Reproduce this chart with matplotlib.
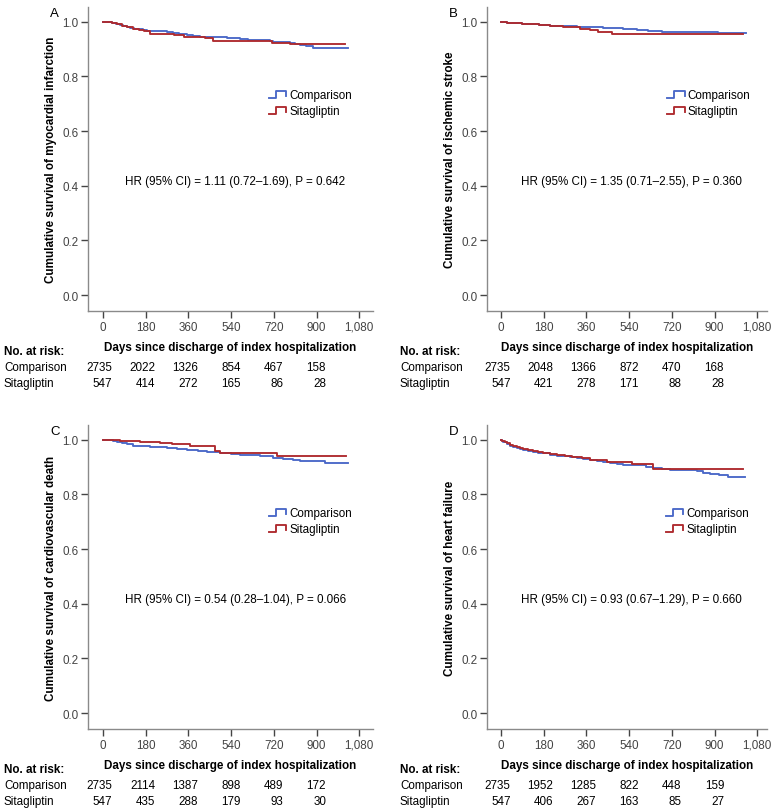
import numpy as np
import matplotlib
matplotlib.use('Agg')
import matplotlib.pyplot as plt
from matplotlib.lines import Line2D
from matplotlib.legend_handler import HandlerLine2D
import matplotlib.transforms as mtrans

plt.rcParams['font.family'] = ['Liberation Sans', 'DejaVu Sans']

# ---- data ----
risk_days = [0, 180, 360, 540, 720, 900]
xtick_vals = [0, 180, 360, 540, 720, 900, 1080]
xtick_labels = ['0', '180', '360', '540', '720', '900', '1,080']
ytick_vals = [0.0, 0.2, 0.4, 0.6, 0.8, 1.0]

panel_letters = ['A', 'B', 'C', 'D']
ylabels = ['Cumulative survival of myocardial infarction',
           'Cumulative survival of ischemic stroke',
           'Cumulative survival of cardiovascular death',
           'Cumulative survival of heart failure']
hr_texts = ['HR (95% CI) = 1.11 (0.72\u20131.69), P = 0.642',
            'HR (95% CI) = 1.35 (0.71\u20132.55), P = 0.360',
            'HR (95% CI) = 0.54 (0.28\u20131.04), P = 0.066',
            'HR (95% CI) = 0.93 (0.67\u20131.29), P = 0.660']

# panel A - myocardial infarction
mi_comp_t = [0, 40, 55, 70, 85, 100, 115, 130, 150, 170, 185, 210, 240, 270, 296, 320, 353, 380, 409, 450,
             522, 560, 578, 610, 634, 670, 703, 717, 750, 788, 810, 830, 855, 880, 887, 1033]
mi_comp_s = [1.0, 0.996, 0.992, 0.988, 0.985, 0.981, 0.978, 0.975, 0.972, 0.969, 0.967, 0.966, 0.965, 0.962,
             0.958, 0.955, 0.950, 0.948, 0.946, 0.944, 0.942, 0.940, 0.937, 0.935, 0.934, 0.932, 0.931, 0.927,
             0.925, 0.922, 0.919, 0.915, 0.913, 0.910, 0.904, 0.904]
mi_sita_t = [0, 40, 60, 80, 100, 125, 150, 175, 200, 250, 300, 340, 380, 430, 464, 712, 788, 1020]
mi_sita_s = [1.0, 0.995, 0.990, 0.985, 0.980, 0.975, 0.970, 0.965, 0.957, 0.954, 0.950, 0.946, 0.943, 0.940,
             0.931, 0.922, 0.919, 0.919]
mi_risk_comp = [2735, 2022, 1326, 854, 467, 158]
mi_risk_sita = [547, 414, 272, 165, 86, 28]

# panel B - ischemic stroke
is_comp_t = [0, 25, 50, 90, 122, 160, 207, 260, 320, 380, 430, 480, 515, 574, 620, 658, 680, 915, 1033]
is_comp_s = [1.0, 0.997, 0.995, 0.993, 0.990, 0.988, 0.985, 0.984, 0.982, 0.980, 0.978, 0.976, 0.973, 0.970,
             0.968, 0.967, 0.964, 0.959, 0.959]
is_sita_t = [0, 25, 50, 90, 122, 160, 207, 260, 304, 333, 375, 410, 469, 1021]
is_sita_s = [1.0, 0.997, 0.995, 0.993, 0.990, 0.988, 0.985, 0.982, 0.980, 0.973, 0.970, 0.961, 0.957, 0.957]
is_risk_comp = [2735, 2048, 1366, 872, 470, 168]
is_risk_sita = [547, 421, 278, 171, 88, 28]

# panel C - cardiovascular death
cv_comp_t = [0, 42, 60, 80, 101, 127, 160, 198, 230, 269, 310, 353, 400, 437, 470, 493, 540, 578, 620, 662,
             700, 717, 760, 801, 830, 936, 1033]
cv_comp_s = [1.0, 0.997, 0.993, 0.988, 0.984, 0.979, 0.977, 0.975, 0.972, 0.970, 0.967, 0.964, 0.960, 0.957,
             0.954, 0.951, 0.948, 0.946, 0.944, 0.942, 0.940, 0.935, 0.931, 0.927, 0.923, 0.916, 0.916]
cv_sita_t = [0, 72, 156, 240, 290, 312, 367, 472, 493, 734, 1024]
cv_sita_s = [1.0, 0.997, 0.992, 0.989, 0.986, 0.983, 0.977, 0.959, 0.953, 0.942, 0.942]
cv_risk_comp = [2735, 2114, 1387, 898, 489, 172]
cv_risk_sita = [547, 435, 288, 179, 93, 30]

# panel D - heart failure
hf_comp_t = [0, 5, 10, 17, 25, 38, 50, 67, 80, 93, 115, 135, 155, 177, 205, 236, 260, 291, 320, 346, 375,
             405, 430, 459, 490, 514, 573, 610, 641, 680, 712, 797, 826, 850, 881, 920, 957, 1029]
hf_comp_s = [1.0, 0.996, 0.993, 0.990, 0.985, 0.978, 0.974, 0.970, 0.967, 0.964, 0.960, 0.957, 0.953, 0.950,
             0.946, 0.942, 0.940, 0.937, 0.934, 0.930, 0.927, 0.924, 0.920, 0.916, 0.912, 0.908, 0.906, 0.901,
             0.896, 0.893, 0.890, 0.888, 0.884, 0.880, 0.874, 0.870, 0.864, 0.864]
hf_sita_t = [0, 5, 10, 17, 25, 38, 50, 67, 80, 93, 115, 135, 155, 177, 205, 236, 270, 300, 340, 375, 447,
             552, 641, 1020]
hf_sita_s = [1.0, 0.997, 0.994, 0.991, 0.987, 0.980, 0.976, 0.972, 0.969, 0.966, 0.962, 0.959, 0.956, 0.952,
             0.948, 0.944, 0.940, 0.936, 0.932, 0.927, 0.919, 0.910, 0.893, 0.892]
hf_risk_comp = [2735, 1952, 1285, 822, 448, 159]
hf_risk_sita = [547, 406, 267, 163, 85, 27]

curves = [(mi_comp_t, mi_comp_s, mi_sita_t, mi_sita_s),
          (is_comp_t, is_comp_s, is_sita_t, is_sita_s),
          (cv_comp_t, cv_comp_s, cv_sita_t, cv_sita_s),
          (hf_comp_t, hf_comp_s, hf_sita_t, hf_sita_s)]
risks = [(mi_risk_comp, mi_risk_sita), (is_risk_comp, is_risk_sita),
         (cv_risk_comp, cv_risk_sita), (hf_risk_comp, hf_risk_sita)]

BLUE = '#4a68c8'
RED = '#ae2a2e'
FS = 8.4
W, H = 774, 812


class StepHandler(HandlerLine2D):
    # SPSS-like little step icon in the legend
    def create_artists(self, legend, orig_handle, xdescent, ydescent, width, height, fontsize, trans):
        xs = np.array([0.0, 0.42, 0.42, 1.0, 1.0]) * width - xdescent
        ys = np.array([0.05, 0.05, 0.9, 0.9, 0.35]) * height - ydescent
        ln = Line2D(xs, ys, color=orig_handle.get_color(), lw=orig_handle.get_linewidth())
        ln.set_transform(trans)
        return [ln]


fig = plt.figure(figsize=(W / 100, H / 100), dpi=100)

# axes boxes in pixels: left, top, right, bottom ; xlim ; legend anchor x ; text-column x
boxes = [(88, 8, 373, 312), (487, 8, 767, 312), (88, 426, 373, 730), (487, 426, 767, 730)]
xlims = [(-63, 1138), (-59, 1121), (-63, 1138), (-59, 1121)]
leg_x = [0.635, 0.643, 0.635, 0.639]
text_x = [4, 400, 4, 400]

for i in range(4):
    l, t, r, b = boxes[i]
    ax = fig.add_axes([l / W, 1 - b / H, (r - l) / W, (b - t) / H])
    ct, cs, st, ss = curves[i]
    ax.step(ct, cs, where='post', color=BLUE, lw=1.35, label='Comparison')
    ax.step(st, ss, where='post', color=RED, lw=1.35, label='Sitagliptin')
    ax.set_xlim(*xlims[i])
    ax.set_ylim(-0.058, 1.054)
    ax.set_xticks(xtick_vals)
    ax.set_xticklabels(xtick_labels)
    ax.set_yticks(ytick_vals)
    ax.set_yticklabels(['%.1f' % v for v in ytick_vals])
    for sp in ['top', 'right']:
        ax.spines[sp].set_visible(False)
    for sp in ['left', 'bottom']:
        ax.spines[sp].set_color('#8a8a8a')
        ax.spines[sp].set_linewidth(1.0)
    ax.tick_params(direction='out', length=5, width=1.0, color='#444444',
                   labelsize=FS, labelcolor='#444444', pad=2)
    ax.set_xlabel('Days since discharge of index hospitalization', fontsize=FS, fontweight='bold')
    ax.xaxis.set_label_coords(0.5, -30 / (b - t))
    ax.set_ylabel(ylabels[i], fontsize=FS, fontweight='bold')
    ax.yaxis.set_label_coords(-31 / (r - l), 0.5)

    ax.legend(loc='upper left', bbox_to_anchor=(leg_x[i], 0.729), frameon=False, fontsize=FS,
              handlelength=1.5, handletextpad=0.25, labelspacing=0.35, borderpad=0, borderaxespad=0,
              handler_map={Line2D: StepHandler()})

    ax.text(0.5 * (xlims[i][0] + xlims[i][1]) + 20, 0.418, hr_texts[i], fontsize=FS,
            ha='center', va='center')

    # panel letter
    fig.text((l - 38) / W, 1 - (t + 6) / H, panel_letters[i], fontsize=9.5, va='center', ha='left')

    # number at risk table
    y0 = b + 40
    fig.text(text_x[i] / W, 1 - y0 / H, 'No. at risk:', fontsize=FS, fontweight='bold', va='center')
    fig.text(text_x[i] / W, 1 - (y0 + 16) / H, 'Comparison', fontsize=FS, va='center')
    fig.text(text_x[i] / W, 1 - (y0 + 32) / H, 'Sitagliptin', fontsize=FS, va='center')
    tr = mtrans.blended_transform_factory(ax.transData, fig.transFigure)
    rc, rs = risks[i]
    for d, nc, ns in zip(risk_days, rc, rs):
        ax.text(d + 40, 1 - (y0 + 16) / H, str(nc), transform=tr, fontsize=FS, ha='right', va='center',
                clip_on=False)
        ax.text(d + 40, 1 - (y0 + 32) / H, str(ns), transform=tr, fontsize=FS, ha='right', va='center',
                clip_on=False)

fig.savefig('out.png', dpi=100)
